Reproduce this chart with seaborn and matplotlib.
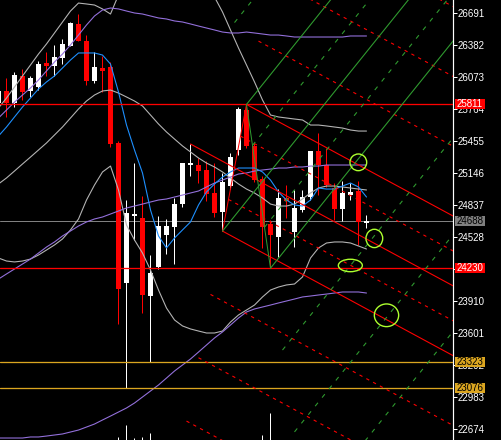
import numpy as np
import pandas as pd
import matplotlib
matplotlib.use("Agg")
import matplotlib.pyplot as plt
from matplotlib.patches import Ellipse, Rectangle
from matplotlib.transforms import blended_transform_factory
import seaborn as sns

# ---------------- data ----------------
bar_idx = list(range(47))
opens = [25825, 25941, 25825, 26085, 25941, 25979, 26211, 26182, 26259, 26375,
         26587, 26423, 26037, 26163, 26172, 25439, 24087, 24734, 24714, 23961,
         24241, 24550, 24627, 24849, 25226, 25226, 25178, 24956, 24772, 25023,
         25371, 25757, 25410, 25091, 24656, 24531, 24907, 24579, 24792, 24917,
         25361, 25226, 25004, 24801, 24936, 24975, 24666]
closes = [25941, 25825, 26095, 25931, 26066, 26201, 26182, 26269, 26394, 26597,
          26423, 26037, 26172, 26134, 25429, 24029, 24763, 24753, 23971, 24183,
          24637, 24637, 24849, 25245, 25245, 25168, 24946, 24763, 25062, 25303,
          25767, 25410, 25081, 24627, 24550, 24907, 24878, 24811, 24917, 25361,
          25226, 25033, 24801, 24956, 24965, 24676, 24688]
highs = [25999, 26066, 26124, 26153, 26085, 26230, 26317, 26385, 26443, 26607,
         26684, 26481, 26317, 26278, 26221, 25458, 24888, 25245, 24927, 24357,
         24734, 24705, 24907, 25245, 25429, 25294, 25265, 25245, 25149, 25342,
         25786, 25811, 25439, 25120, 24695, 24995, 25033, 24985, 24985, 25361,
         25535, 25390, 25052, 25072, 25052, 25072, 24743]
lows = [25796, 25690, 25786, 25854, 25883, 25950, 26085, 26085, 26201, 26375,
        26423, 25999, 26018, 25931, 25400, 23691, 23076, 24502, 23797, 23323,
        24221, 24367, 24270, 24820, 25120, 25052, 24879, 24724, 24588, 24994,
        25323, 25390, 25062, 24424, 24230, 24338, 24714, 24434, 24772, 24888,
        24936, 25014, 24695, 24685, 24888, 24454, 24618]
volumes = [0] * 15 + [3, 15, 2, 3, 7] + [0] * 13 + [5, 27] + [0] * 12

ma_fast = [25506, 25593, 25690, 25786, 25873, 25960, 26028, 26086, 26163, 26240,
           26308, 26308, 26308, 26288, 26201, 25931, 25612, 25371, 25149, 24792,
           24541, 24425, 24521, 24599, 24676, 24840, 24966, 25043, 25110, 25159,
           25197, 25197, 25197, 25159, 25081, 24966, 24888, 24840, 24830, 24888,
           25004, 24994, 24994, 25023, 25052, 25014, 24917]
bb_upper = [25777, 25873, 25979, 26086, 26192, 26298, 26395, 26501, 26607, 26713,
            26790, 26781, 26771, 26733, 26684, 26868, 27119, 27186, 27215, 27206,
            27225, 27244, 27225, 27148, 27061, 26964, 26887, 26848, 26704, 26530,
            26356, 26192, 26028, 25854, 25709, 25690, 25680, 25670, 25661, 25612,
            25612, 25603, 25593, 25583, 25564, 25554, 25554]
bb_mid = [25043, 25101, 25168, 25236, 25303, 25371, 25439, 25516, 25593, 25680,
          25767, 25844, 25902, 25941, 25950, 25921, 25883, 25844, 25796, 25709,
          25622, 25545, 25477, 25410, 25352, 25294, 25245, 25207, 25159, 25101,
          25043, 24994, 24956, 24907, 24849, 24830, 24830, 24849, 24898, 24956,
          25004, 25023, 25023, 25014, 25004, 24994, 24985]
bb_lower = [24328, 24299, 24290, 24299, 24318, 24357, 24405, 24454, 24512, 24599,
            24705, 24888, 25033, 25159, 25216, 24985, 24647, 24502, 24376, 24212,
            24019, 23845, 23730, 23672, 23643, 23623, 23604, 23604, 23623, 23710,
            23778, 23826, 23874, 23952, 24019, 24048, 24068, 24077, 24145, 24328,
            24425, 24473, 24483, 24483, 24473, 24444, 24415]
bb2_upper = [25680, 25757, 25834, 25902, 25970, 26047, 26134, 26221, 26298, 26385,
             26481, 26578, 26665, 26723, 26742, 26733, 26713, 26694, 26684, 26665,
             26646, 26636, 26617, 26607, 26588, 26568, 26549, 26530, 26510, 26501,
             26501, 26510, 26501, 26491, 26481, 26481, 26472, 26462, 26462, 26462,
             26462, 26462, 26462, 26462, 26472, 26472, 26472]
bb2_mid = [24125, 24174, 24222, 24270, 24318, 24376, 24434, 24483, 24541, 24589,
           24637, 24676, 24705, 24724, 24753, 24782, 24811, 24830, 24849, 24869,
           24888, 24898, 24917, 24936, 24956, 24975, 25014, 25052, 25081, 25110,
           25139, 25149, 25168, 25178, 25187, 25197, 25197, 25207, 25207, 25216,
           25216, 25226, 25226, 25226, 25226, 25226, 25226]
bb2_lower = [22590, 22590, 22590, 22590, 22600, 22600, 22609, 22619, 22629, 22648,
             22667, 22696, 22725, 22764, 22802, 22841, 22880, 22928, 22986, 23044,
             23102, 23169, 23237, 23295, 23353, 23420, 23488, 23556, 23614, 23681,
             23749, 23807, 23836, 23855, 23874, 23894, 23913, 23932, 23952, 23961,
             23971, 23980, 23990, 24000, 24000, 24000, 23990]

price_ticks = [26691, 26382, 26073, 25764, 25455, 25146, 24837, 24528, 24219,
               23910, 23601, 23292, 22983, 22674]
level_prices = [25811, 24230, 23323, 23076]
level_kinds = ["red", "red", "gold", "gold"]
bid_price = 24688
fork_levels = [-4, -3, -2, -1, -0.5, 0, 0.5, 1, 2, 3, 4]
mark_idx = [44.98, 46.98, 43.98, 48.5]
mark_price = [25252, 24517, 24256, 23775]

# ---------------- style ----------------
sns.set_style("dark")
plt.rcParams['font.family'] = ['Liberation Sans', 'DejaVu Sans']
PX = 0.72  # one pixel in points at 100 dpi
RED = "#ff0000"
GREEN = "#2f9a2f"
GOLD = "#daa520"
BAND = "#b4b4b4"
PURPLE = "#9370db"
BLUE = "#1e90ff"
MARK = "#adff2f"
mark_w = [2.09, 2.09, 3.0, 3.04]
mark_h = [161, 177, 120, 219]

fig = plt.figure(figsize=(5.02, 4.4), dpi=100, facecolor="black")
ax = fig.add_axes([0, 0, 453 / 502, 1])
ax.set_facecolor("black")
ax.grid(False)
XMIN, XMAX = 0.1875, 56.8125
YMIN, YMAX = 22570.8, 26819.4

# candles
df = pd.DataFrame(dict(i=bar_idx, o=opens, h=highs, l=lows, c=closes, v=volumes))
up = df.c >= df.o
cols = np.where(up, "white", RED)
ax.vlines(df.i, df.l, df.h, colors=cols, lw=PX, zorder=2)
body_lo = np.minimum(df.o, df.c)
body_h = np.maximum(np.abs(df.c - df.o), 12)
ax.bar(df.i, body_h, bottom=body_lo, width=0.62, color=cols, linewidth=0, zorder=2)

# volume (bottom)
vtr = blended_transform_factory(ax.transData, ax.transAxes)
vis = df[df.v > 0]
ax.vlines(vis.i, 0, vis.v / 440.0, colors="white", lw=PX, transform=vtr, zorder=2)

# indicators
for series, color in [(bb_upper, BAND), (bb_mid, BAND), (bb_lower, BAND),
                      (bb2_upper, PURPLE), (bb2_mid, PURPLE), (bb2_lower, PURPLE),
                      (ma_fast, BLUE)]:
    sns.lineplot(x=bar_idx, y=series, color=color, lw=PX * 1.1, ax=ax, zorder=3,
                 estimator=None)

# horizontal levels
for p, k in zip(level_prices, level_kinds):
    ax.axhline(p, color=RED if k == "red" else GOLD, lw=PX * 1.3, zorder=4)
ax.axhline(bid_price, color="#808080", lw=PX, zorder=1.5)


# pitchforks
def fork(p0, p1, p2, color, dash):
    mx, my = (p1[0] + p2[0]) / 2, (p1[1] + p2[1]) / 2
    slope = (my - p0[1]) / (mx - p0[0])
    ax.plot([p1[0], p2[0]], [p1[1], p2[1]], color=color, lw=PX, zorder=4)
    for L in fork_levels:
        if L == 0:
            sx, sy = p0
        else:
            sx, sy = mx + L * (p2[0] - mx), my + L * (p2[1] - my)
        ex = 70
        ey = sy + slope * (ex - sx)
        ls = "-" if L in (-1, 0, 1) else (0, dash)
        ax.plot([sx, ex], [sy, ey], color=color, lw=PX * 1.1, linestyle=ls, zorder=4)


D = (24, highs[24])
B = (31, highs[31])
A = (28, lows[28])
C = (34, lows[34])
fork(D, B, A, RED, (3, 4))
fork(A, B, C, GREEN, (4, 6))

# marks
for xi, yp, w, h in zip(mark_idx, mark_price, mark_w, mark_h):
    ax.add_patch(Ellipse((xi, yp), w, h, fill=False, ec=MARK, lw=1.0, zorder=5))

ax.set_xlim(XMIN, XMAX)
ax.set_ylim(YMIN, YMAX)
ax.set_xticks([])
ax.yaxis.tick_right()
ax.set_yticks(price_ticks)
ax.set_yticklabels([str(t) for t in price_ticks])
ax.tick_params(axis="y", colors="white", labelcolor="white", length=2.6, width=PX,
               pad=1, labelsize=7)
for s in ["left", "top", "bottom"]:
    ax.spines[s].set_visible(False)
ax.spines["right"].set_color("white")
ax.spines["right"].set_linewidth(PX * 1.2)

# price labels on the axis
ltr = blended_transform_factory(ax.transAxes, ax.transData)
def price_label(p, bg, fg):
    h = 10 * (YMAX - YMIN) / 440
    ax.add_patch(Rectangle((455 / 453, p - h / 2), 30 / 453, h, transform=ltr,
                           facecolor=bg, edgecolor="none", clip_on=False, zorder=10))
    ax.text(457 / 453, p, str(p), transform=ltr, color=fg, fontsize=7,
            va="center", ha="left", clip_on=False, zorder=11)

for p, k in zip(level_prices, level_kinds):
    if k == "red":
        price_label(p, RED, "white")
    else:
        price_label(p, GOLD, "black")
price_label(bid_price, "#808080", "black")

fig.savefig("out.png", dpi=100, facecolor="black")
